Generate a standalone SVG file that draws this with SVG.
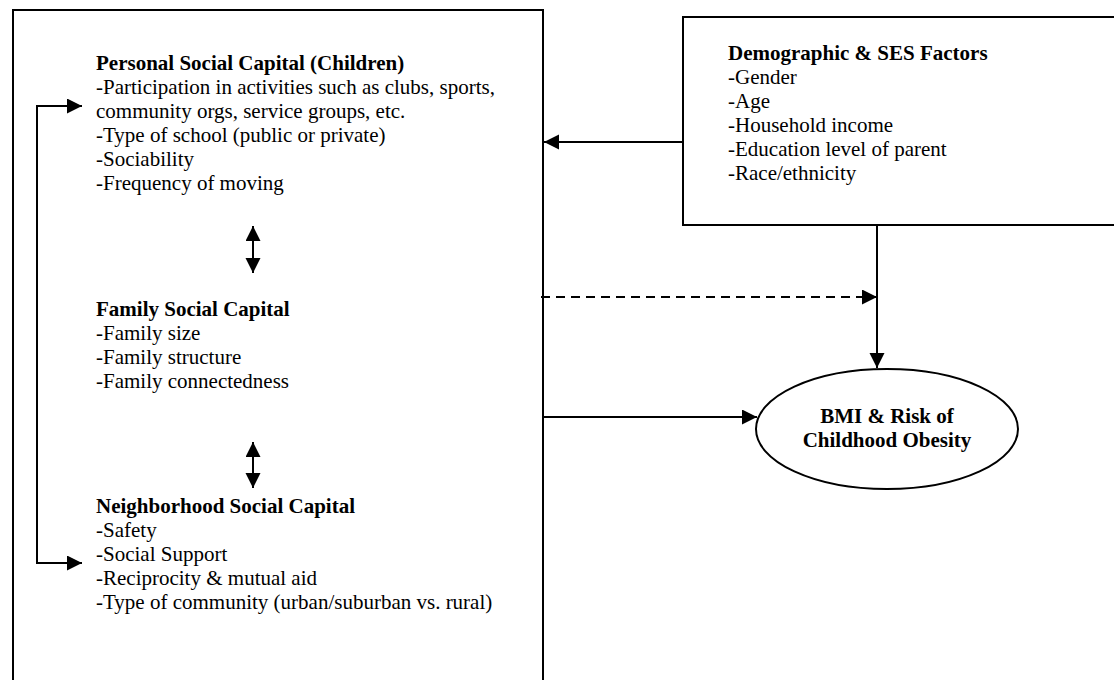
<svg xmlns="http://www.w3.org/2000/svg" width="1114" height="680" viewBox="0 0 1114 680">
<style>
  .box { fill: #fff; stroke: #000; stroke-width: 2; }
  .t { font-family: "Liberation Serif", "Times New Roman", serif; font-size: 21px; fill: #000; }
  .b { font-weight: bold; }
  .c { stroke: #000; stroke-width: 2; fill: none; }
  .dash { stroke-dasharray: 9 6; }
</style>
<defs>
  <marker id="ah" markerUnits="userSpaceOnUse" markerWidth="16" markerHeight="16" refX="15" refY="7.5" orient="auto-start-reverse">
    <path d="M0,0 L15,7.5 L0,15 z" fill="#000"/>
  </marker>
</defs>
<rect width="1114" height="680" fill="#fff"/>

<g id="social-capital">
  <rect class="box" x="13" y="10" width="530" height="700"/>
  <g id="personal">
    <text class="t b" x="96" y="70">Personal Social Capital (Children)</text>
    <text class="t" x="96" y="94">-Participation in activities such as clubs, sports,</text>
    <text class="t" x="96" y="118">community orgs, service groups, etc.</text>
    <text class="t" x="96" y="142">-Type of school (public or private)</text>
    <text class="t" x="96" y="166">-Sociability</text>
    <text class="t" x="96" y="190">-Frequency of moving</text>
  </g>
  <g id="family">
    <text class="t b" x="96" y="316">Family Social Capital</text>
    <text class="t" x="96" y="340">-Family size</text>
    <text class="t" x="96" y="364">-Family structure</text>
    <text class="t" x="96" y="388">-Family connectedness</text>
  </g>
  <g id="neighborhood">
    <text class="t b" x="96" y="513">Neighborhood Social Capital</text>
    <text class="t" x="96" y="537">-Safety</text>
    <text class="t" x="96" y="561">-Social Support</text>
    <text class="t" x="96" y="585">-Reciprocity &amp; mutual aid</text>
    <text class="t" x="96" y="609">-Type of community (urban/suburban vs. rural)</text>
  </g>
</g>

<g id="demographic">
  <rect class="box" x="683" y="17" width="450" height="208"/>
  <text class="t b" x="728" y="60">Demographic &amp; SES Factors</text>
  <text class="t" x="728" y="84">-Gender</text>
  <text class="t" x="728" y="108">-Age</text>
  <text class="t" x="728" y="132">-Household income</text>
  <text class="t" x="728" y="156">-Education level of parent</text>
  <text class="t" x="728" y="180">-Race/ethnicity</text>
</g>

<g id="bmi">
  <ellipse class="box" cx="887" cy="429" rx="131" ry="60"/>
  <text class="t b" x="887" y="423" text-anchor="middle">BMI &amp; Risk of</text>
  <text class="t b" x="887" y="447" text-anchor="middle">Childhood Obesity</text>
</g>

<g id="connectors">
  <path class="c" d="M82,106 L37,106 L37,563 L82,563" marker-start="url(#ah)" marker-end="url(#ah)"/>
  <path class="c" d="M253,226 L253,273" marker-start="url(#ah)" marker-end="url(#ah)"/>
  <path class="c" d="M253,442 L253,488" marker-start="url(#ah)" marker-end="url(#ah)"/>
  <path class="c" d="M683,142 L544,142" marker-end="url(#ah)"/>
  <path class="c dash" d="M541,297 L877,297" marker-end="url(#ah)"/>
  <path class="c" d="M877,225 L877,368" marker-end="url(#ah)"/>
  <path class="c" d="M543,417 L757,417" marker-end="url(#ah)"/>
</g>
</svg>
